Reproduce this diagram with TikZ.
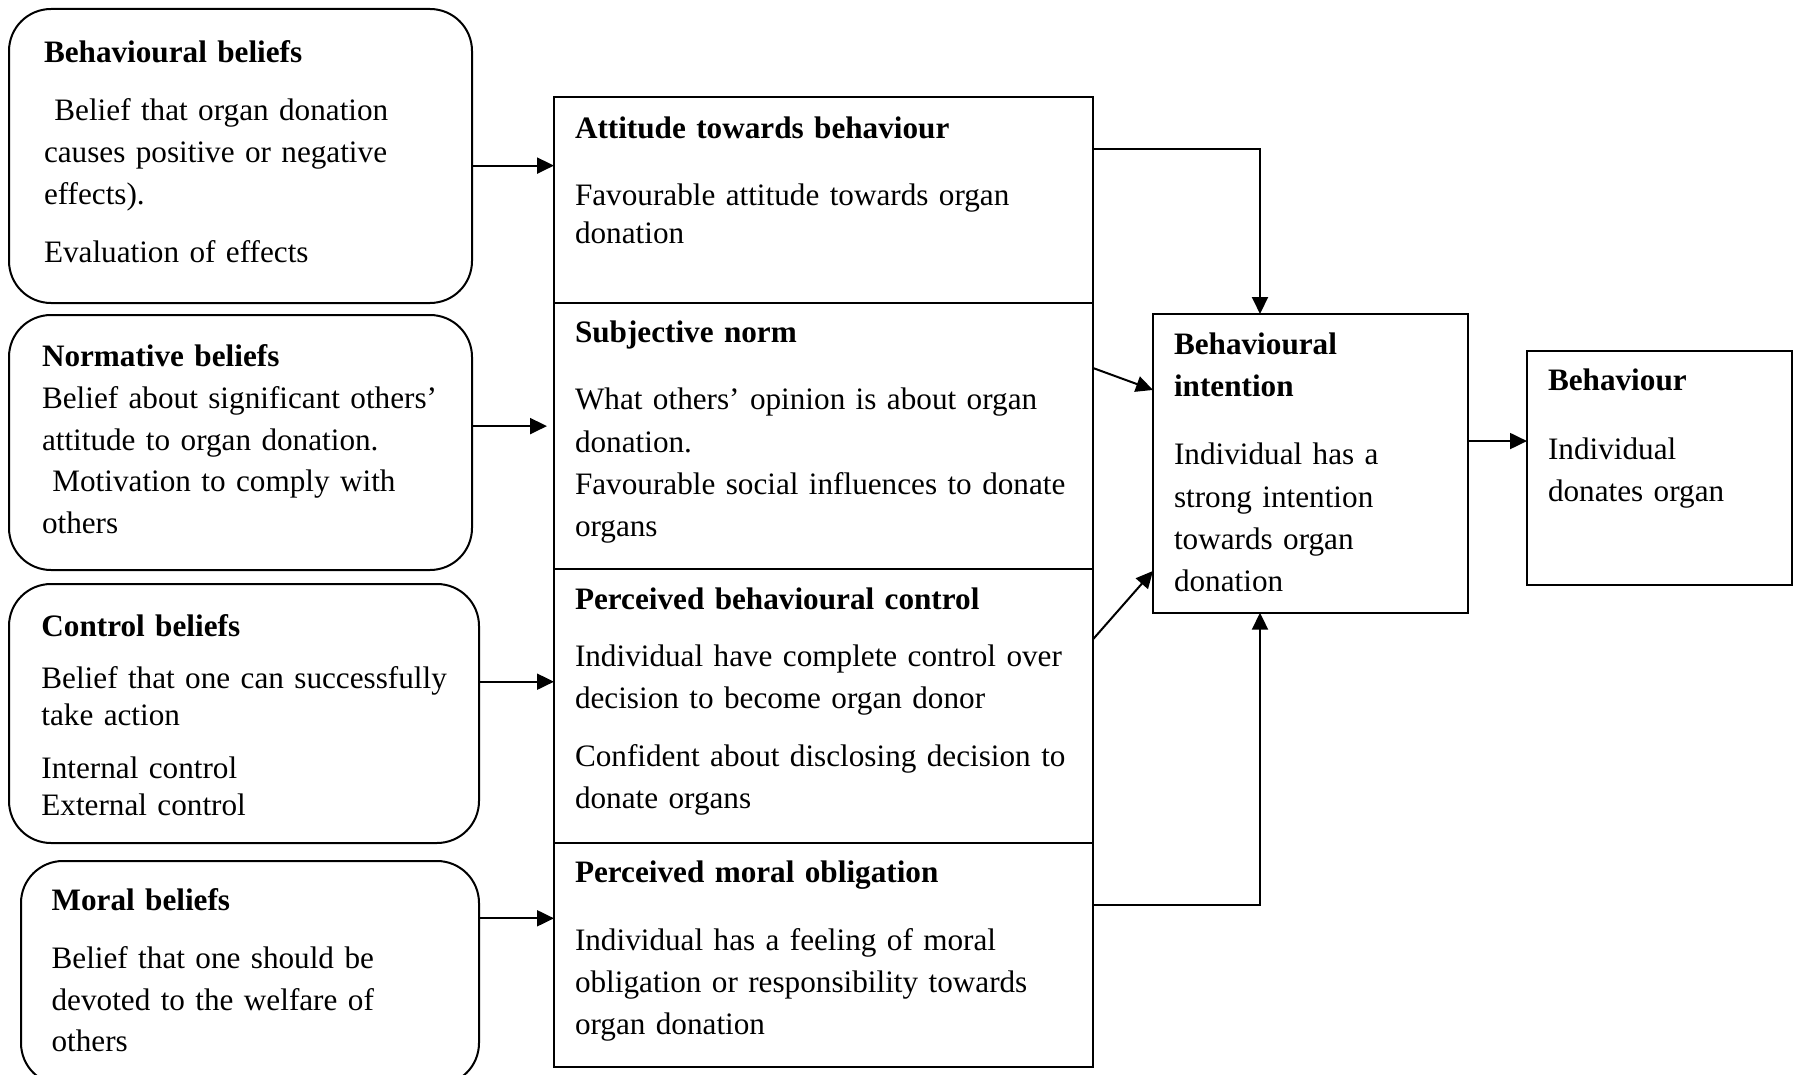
\documentclass[tikz,border=0pt]{standalone}
\usepackage{fontspec}
\setmainfont{Liberation Serif}
\usetikzlibrary{arrows.meta,scopes,chains,calc,positioning}

\tikzset{
  tpb schemes/.style = {
    x = 1pt, y = -1pt,
    line width = 2pt,
    % Блоки
    belief box/.style = {draw, rounded corners=42pt, inner sep=0pt,
                         outer sep=0pt, anchor=north west},
    plain box/.style  = {draw, inner sep=0pt, outer sep=0pt},
    mid box/.style    = {plain box, minimum width=539pt, on chain},
    node distance = 0pt,
    % Текст
    txt/.style = {anchor=base west, inner sep=0pt, outer sep=0pt,
                  text width=520pt, align=left,
                  font=\fontsize{31.2}{##1}\selectfont},
    txt/.default = 42.2,
    % Стрелки
    connect line/.style = {line width=2pt, -{Triangle[length=17pt,width=16pt]}},
  }
}

\begin{document}
\begin{tikzpicture}[tpb schemes]
    \useasboundingbox (0,0) rectangle (1798,1075);

    \node[belief box, minimum width=463pt, minimum height=294pt] (bb) at (9,9) {};
    \node[belief box, minimum width=463pt, minimum height=255pt] (nb) at (9,315) {};
    \node[belief box, minimum width=470pt, minimum height=259pt] (cb) at (9,584) {};
    \node[belief box, minimum width=458pt, minimum height=224pt] (mb) at (21,861) {};

    \node[txt] (bb-txt) at ($(bb.north west)+(35,54)$)
      {\textbf{Behavioural beliefs}\\[15pt]
       ~Belief that organ donation\\ causes positive or negative\\ effects).\\[16pt]
       Evaluation of effects};
    \node[txt=41.7] (nb-txt) at ($(nb.north west)+(33,51.7)$)
      {\textbf{Normative beliefs}\\ Belief about significant others’\\
       attitude to organ donation.\\ ~Motivation to comply with\\ others};
    \node[txt=36.7] (cb-txt) at ($(cb.north west)+(32.4,52.7)$)
      {\textbf{Control beliefs}\\[15pt]
       Belief that one can successfully\\ take action\\[16.6pt]
       Internal control\\ External control};
    \node[txt=41.7] (mb-txt) at ($(mb.north west)+(30.6,49)$)
      {\textbf{Moral beliefs}\\[16.6pt]
       Belief that one should be\\ devoted to the welfare of\\ others};

    { [start chain=mid going below]
      \node[mid box, anchor=north west, minimum height=206pt] at (554,97) {};
      \node[mid box, minimum height=266pt] {};
      \node[mid box, minimum height=274pt] {};
      \node[mid box, minimum height=224pt] {};
    }

    \node[txt=37.5] (att-txt) at ($(mid-1.north west)+(21,41.3)$)
      {\textbf{Attitude towards behaviour}\\[30pt]
       Favourable attitude towards organ\\ donation};
    \node[txt] (sn-txt) at ($(mid-2.north west)+(21,39.7)$)
      {\textbf{Subjective norm}\\[25pt]
       What others’ opinion is about organ\\ donation.\\
       Favourable social influences to donate\\ organs};
    \node[txt=41.6] (pbc-txt) at ($(mid-3.north west)+(21,40.3)$)
      {\textbf{Perceived behavioural control}\\[15.8pt]
       Individual have complete control over\\ decision to become organ donor\\[16.8pt]
       Confident about disclosing decision to\\ donate organs};
    \node[txt=42] (pmo-txt) at ($(mid-4.north west)+(21,39.7)$)
      {\textbf{Perceived moral obligation}\\[26pt]
       Individual has a feeling of moral\\ obligation or responsibility towards\\
       organ donation};

    \node[plain box, anchor=north west, minimum width=315pt,
          minimum height=298.7pt] (int) at (1153,314) {};
    \node[plain box, anchor=north west, minimum width=265pt,
          minimum height=234pt] (beh) at (1527,351) {};

    \node[txt=42.3] (int-txt) at ($(int.north west)+(21,40.3)$)
      {\textbf{Behavioural}\\ \textbf{intention}\\[26pt]
       Individual has a\\ strong intention\\ towards organ\\ donation};
    \node[txt=41.7] (beh-txt) at ($(beh.north west)+(21,39.7)$)
      {\textbf{Behaviour}\\[27pt] Individual\\ donates organ};

    \draw[connect line] ([yshift=-9.6pt]bb.east) coordinate (a1) -- (a1 -| mid-1.west);
    \draw[connect line, shorten >=7pt] ([yshift=16.4pt]nb.east) coordinate (a2) -- (a2 -| mid-2.west);
    \draw[connect line] ([yshift=31.8pt]cb.east) coordinate (a3) -- (a3 -| mid-3.west);
    \draw[connect line] ([yshift=54.7pt]mb.east) coordinate (a4) -- (a4 -| mid-4.west);

    \draw[connect line] ([yshift=50.7pt]mid-1.east) -| ([xshift=-50.5pt]int.north);
    \draw[connect line] ([yshift=68pt]mid-2.east) -- ([yshift=73.4pt]int.west);
    \draw[connect line] ([yshift=66.7pt]mid-3.east) -- ([yshift=-107.6pt]int.west);
    \draw[connect line] ([yshift=50pt]mid-4.east) -| ([xshift=-50.5pt]int.south);

    \draw[connect line] ([yshift=22.3pt]int.east) coordinate (a9) -- (a9 -| beh.west);

\end{tikzpicture}
\end{document}
